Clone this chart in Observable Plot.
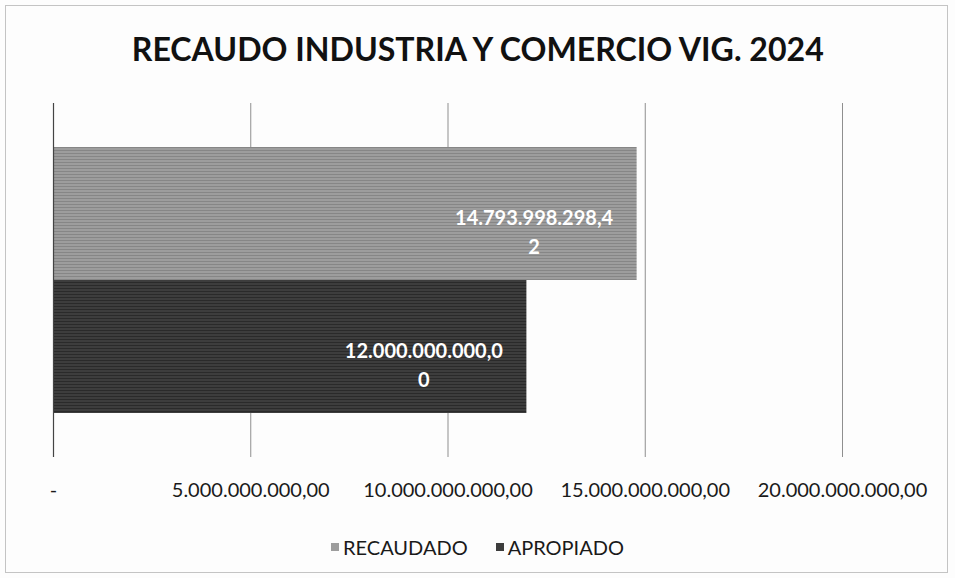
<!DOCTYPE html>
<html>
<head>
<meta charset="utf-8">
<script src="https://cdn.jsdelivr.net/npm/d3@7"></script>
<script src="https://cdn.jsdelivr.net/npm/@observablehq/plot@0.6"></script>
<style>
  html, body { margin: 0; padding: 0; background: #fff; }
  #wrap { position: relative; width: 955px; height: 578px; overflow: hidden; background: #fdfdfd; font-family: Lato, "Open Sans", sans-serif; }
  #frame { position: absolute; left: 5px; top: 5px; width: 943px; height: 568px; border: 1px solid #c4c4c4; box-sizing: border-box; }
  #title { position: absolute; left: 0; width: 955px; top: 28px; text-align: center; font-weight: 700; font-size: 33px; color: #111; white-space: nowrap; }
  #title span { display: inline-block; transform-origin: center; }
  #chart { position: absolute; left: 0; top: 0; }
  #legend { position: absolute; left: 0; width: 955px; top: 531px; text-align: center; font-size: 20px; color: #1a1a1a; white-space: nowrap; }
  #legend .item { display: inline-flex; align-items: center; margin: 0 14px; }
  #legend .sw { width: 8px; height: 8px; display: inline-block; margin-right: 4px; }
</style>
</head>
<body>
<div id="wrap">
  <div id="frame"></div>
  <div id="chart"></div>
  <div id="title"><span>RECAUDO INDUSTRIA Y COMERCIO VIG. 2024</span></div>
  <div id="legend"></div>
</div>
<script>
// ---- data ----
const titleText = "RECAUDO INDUSTRIA Y COMERCIO VIG. 2024";
const categories = ["RECAUDADO", "APROPIADO"];
const values = [14793998298.42, 12000000000.00];
const tickValues = [0, 5e9, 10e9, 15e9, 20e9];
const colors = ["#9d9d9d", "#3d3d3d"];
const stripeColors = ["#868686", "#2a2a2a"];

const locale = d3.formatLocale({decimal: ",", thousands: ".", grouping: [3], currency: ["", ""]});
const fmt = locale.format(",.2f");
const tickFmt = d => d === 0 ? "-" : fmt(d);
// Excel wraps the data label after 16 characters
const wrapLabel = s => s.length > 16 ? s.slice(0, 16) + "\n" + s.slice(16) : s;

const data = categories.map((c, i) => ({cat: c, value: values[i], label: wrapLabel(fmt(values[i]))}));

const plot = Plot.plot({
  width: 955,
  height: 578,
  marginLeft: 53,
  marginRight: 113,
  marginTop: 103,
  marginBottom: 121,
  style: {background: "transparent", fontFamily: "Lato, 'Open Sans', sans-serif"},
  x: {domain: [0, 20e9], ticks: tickValues, label: null},
  y: {domain: categories, paddingInner: 0, paddingOuter: 0.33, axis: null},
  color: {domain: categories, range: colors},
  marks: [
    Plot.gridX(tickValues.slice(1), {stroke: "#8f8f8f", strokeOpacity: 1, strokeWidth: 1}),
    Plot.barX(data, {x: "value", y: "cat", fill: "cat", className: "bars"}),
    Plot.ruleX([0], {stroke: "#444", strokeWidth: 1.2}),
    Plot.text(data, {
      x: "value", y: "cat", text: "label",
      dx: -103, dy: 16, textAnchor: "middle", lineHeight: 1.45,
      fill: "white", fontSize: 20, fontWeight: 700
    }),
    Plot.axisX(tickValues, {
      tickSize: 0, tickPadding: 25, tickFormat: tickFmt,
      fontSize: 20, fill: "#1a1a1a", label: null
    })
  ]
});
document.getElementById("chart").appendChild(plot);

// scanned-print texture: thin horizontal stripes over each bar colour
const svg = d3.select(plot);
const defs = svg.insert("defs", ":first-child");
categories.forEach((c, i) => {
  const p = defs.append("pattern")
    .attr("id", "stripe" + i).attr("patternUnits", "userSpaceOnUse")
    .attr("width", 6).attr("height", 3);
  p.append("rect").attr("width", 6).attr("height", 3).attr("fill", colors[i]);
  p.append("rect").attr("width", 6).attr("height", 1).attr("fill", stripeColors[i]);
});
svg.selectAll(".bars rect").each(function(d, j) {
  const f = d3.select(this).attr("fill");
  const i = colors.findIndex(c => d3.color(c).formatHex() === d3.color(f).formatHex());
  if (i >= 0) d3.select(this).attr("fill", `url(#stripe${i})`);
});

// title: fit its width to the reference width
const t = document.querySelector("#title span");
t.textContent = titleText;
const w = t.getBoundingClientRect().width;
t.style.transform = `scaleX(${692 / w})`;

// legend
const lg = document.getElementById("legend");
categories.forEach((c, i) => {
  const item = document.createElement("span");
  item.className = "item";
  const sw = document.createElement("span");
  sw.className = "sw";
  sw.style.background = colors[i];
  item.appendChild(sw);
  item.appendChild(document.createTextNode(c));
  lg.appendChild(item);
});
</script>
</body>
</html>
